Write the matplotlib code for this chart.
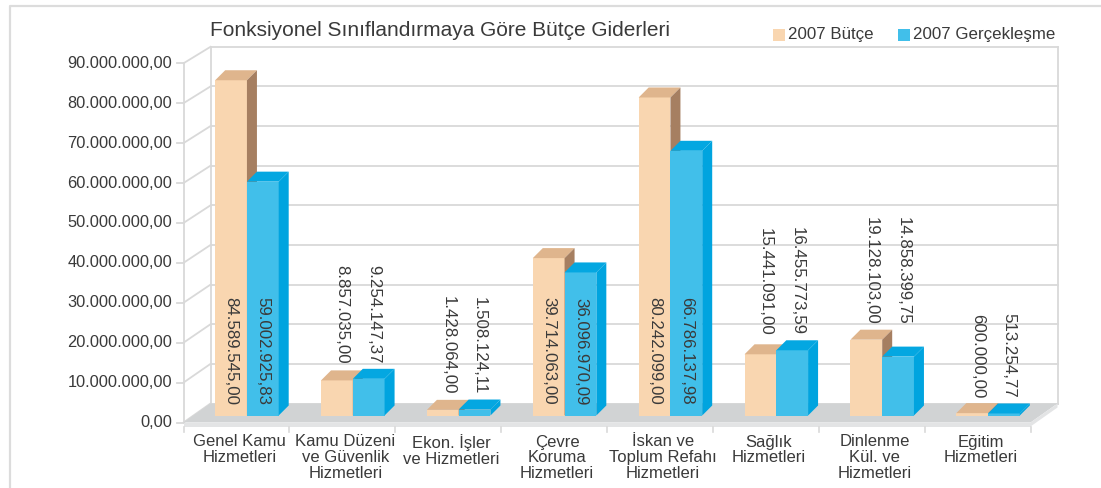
import numpy as np
import matplotlib
matplotlib.use("Agg")
import matplotlib.pyplot as plt
from matplotlib.patches import Polygon, Rectangle
from matplotlib.lines import Line2D

# data
categories = ["Genel Kamu\nHizmetleri", "Kamu Düzeni\nve Güvenlik\nHizmetleri",
              "Ekon. İşler\nve Hizmetleri", "Çevre\nKoruma\nHizmetleri",
              "İskan ve\nToplum Refahı\nHizmetleri", "Sağlık\nHizmetleri",
              "Dinlenme\nKül. ve\nHizmetleri", "Eğitim\nHizmetleri"]
budget = [84589545.00, 8857035.00, 1428064.00, 39714063.00,
          80242099.00, 15441091.00, 19128103.00, 600000.00]
actual = [59002925.83, 9254147.37, 1508124.11, 36096970.09,
          66786137.98, 16455773.59, 14858399.75, 513254.77]
series_names = ["2007 Bütçe", "2007 Gerçekleşme"]
y_ticks = np.arange(0, 90_000_001, 10_000_000)
title = "Fonksiyonel Sınıflandırmaya Göre Bütçe Giderleri"

plt.rcParams["font.family"] = ["Liberation Sans", "DejaVu Sans"]
TXT = "#3a3a3a"
GRID = "#d9d9d9"
FRONT = ["#f9d6b0", "#41bfea"]
TOP = ["#dfb58d", "#04a7e1"]
SIDE = ["#a67f61", "#00a4df"]


def tr_fmt(v):
    s = f"{v:,.2f}"
    return s.replace(",", "X").replace(".", ",").replace("X", ".")


W, H = 1101, 488
fig = plt.figure(figsize=(W / 100, H / 100), dpi=100)
x_left, x_right, y_zero, y_top = 194, 1041, 415.5, 58.8
ax = fig.add_axes([x_left / W, (H - y_zero) / H, (x_right - x_left) / W, (y_zero - y_top) / H])
n = len(categories)
ax.set_xlim(-0.5, n - 0.5)
ax.set_ylim(0, 90e6)
ax.axis("off")

# pixel -> data unit scales
sx = (x_right - x_left) / n
sy = (y_zero - y_top) / 90e6
bx, by = 16.5 / sx, 12 / sy      # back wall offset
fx, fy = -10.5 / sx, -7 / sy     # front edge offset
kf = 1.007                       # front axis slightly taller (perspective)
x0, x1 = -0.5, n - 0.5

# back wall
for t in y_ticks:
    ax.plot([x0 + bx, x1 + bx], [t + by, t + by], color=GRID, lw=1.3, clip_on=False, zorder=1)
    ax.plot([x0 + fx, x0 + bx], [t * kf + fy, t + by], color=GRID, lw=1.3, clip_on=False, zorder=1)
    ax.plot([x0 + fx - 7 / sx, x0 + fx], [t * kf + fy] * 2, color=GRID, lw=1.3, clip_on=False, zorder=1)
    ax.text(x0 + fx - 11 / sx, t * kf + fy, tr_fmt(t), ha="right", va="center",
            fontsize=11.8, color=TXT)
for xe in (x0 + bx, x1 + bx):
    ax.plot([xe, xe], [by, 90e6 + by], color=GRID, lw=1.3, clip_on=False, zorder=1)
ax.plot([x0 + fx, x0 + fx], [fy, 90e6 * kf + fy], color=GRID, lw=1.3, clip_on=False, zorder=1)

# floor
th = 4 / sy
ax.add_patch(Polygon([(x0 + fx, fy), (x1 + fx, fy), (x1 + bx, by), (x0 + bx, by)],
                     closed=True, color="#d1d3d4", lw=0, zorder=2, clip_on=False))
ax.add_patch(Polygon([(x0 + fx, fy), (x1 + fx, fy), (x1 + fx, fy - th), (x0 + fx, fy - th)],
                     closed=True, color="#e3e4e5", lw=0, zorder=2, clip_on=False))
ax.add_patch(Polygon([(x1 + fx, fy), (x1 + bx, by), (x1 + bx, by - th), (x1 + fx, fy - th)],
                     closed=True, color="#e3e4e5", lw=0, zorder=2, clip_on=False))
for e in np.arange(x0, x1 + 0.01, 1.0):
    ax.plot([e + fx, e + fx], [fy - th, fy - 9 / sy], color=GRID, lw=1.2, clip_on=False, zorder=2)

# bars with depth
x = np.arange(n)
w = 0.3
ddx, ddy = 10 / sx, 10 / sy
for k, vals in enumerate([budget, actual]):
    pos = x + (k - 0.5) * w
    ax.bar(pos, vals, width=w, color=FRONT[k], zorder=3 + k, clip_on=False)
    for p, h in zip(pos, vals):
        l, r = p - w / 2, p + w / 2
        ax.add_patch(Polygon([(l, h), (r, h), (r + ddx, h + ddy), (l + ddx, h + ddy)],
                             closed=True, color=TOP[k], lw=0, zorder=3 + k, clip_on=False))
        ax.add_patch(Polygon([(r, 0), (r + ddx, ddy), (r + ddx, h + ddy), (r, h)],
                             closed=True, color=SIDE[k], lw=0, zorder=3 + k, clip_on=False))

# value labels
for i in range(n):
    top = max(budget[i], actual[i])
    for k, v in enumerate([budget[i], actual[i]]):
        p = i + (k - 0.5) * w
        if v > 30e6:
            ax.text(p, 10.5 / sy, tr_fmt(v), rotation=-90, ha="center", va="bottom",
                    fontsize=12.2, color=TXT, zorder=6)
        else:
            ax.text(p + 5 / sx, top + 15 / sy, tr_fmt(v), rotation=-90, ha="center",
                    va="bottom", fontsize=12.2, color=TXT, zorder=6)

# category labels
for i, lab in enumerate(categories):
    ax.text(i - 7.5 / sx, fy - 12 / sy, lab, ha="center", va="top", fontsize=12,
            color=TXT, linespacing=1.05, clip_on=False)

# title and legend
fig.text(210 / W, 1 - 30 / H, title, ha="left", va="center", fontsize=15, color=TXT)
for k, (name, lx) in enumerate(zip(series_names, [773, 898])):
    fig.patches.append(Rectangle((lx / W, 1 - 41 / H), 12 / W, 12 / H,
                                 transform=fig.transFigure, color=FRONT[k], lw=0))
    fig.text((lx + 15) / W, 1 - 35 / H, name, ha="left", va="center", fontsize=12.2, color=TXT)

# outer frame
fig.add_artist(Line2D([10 / W, 10 / W, 1], [0, 1 - 6 / H, 1 - 6 / H],
                      transform=fig.transFigure, color="#dcdcdc", lw=1.6))

fig.savefig("out.png", dpi=100)
